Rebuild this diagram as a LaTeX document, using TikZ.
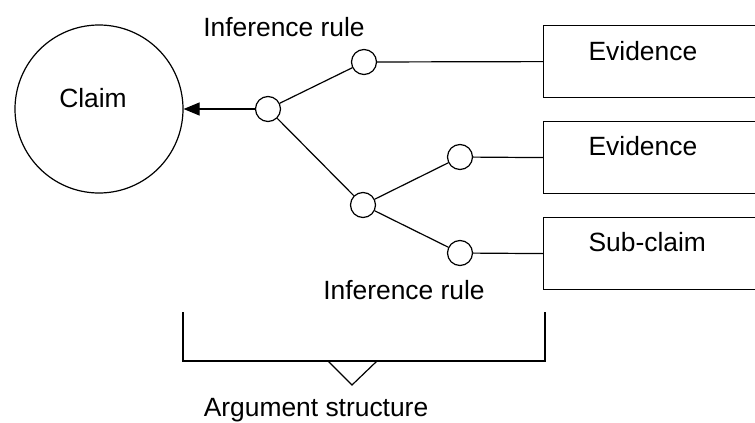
\documentclass[tikz,border=0pt]{standalone}
\usepackage{fontspec}
\setmainfont{Liberation Sans}
\usetikzlibrary{arrows.meta,positioning,shapes.geometric}
\tikzset{
  claimnode/.style={draw, circle, minimum size=84pt, inner sep=0pt},
  rulenode/.style={draw, circle, minimum size=12.5pt, inner sep=0pt, fill=white},
  evbox/.style={draw, rectangle, anchor=north west, minimum width=130pt,
                minimum height=36pt, inner sep=0pt},
  lbl/.style={font=\fontsize{13.2}{16}\selectfont, inner sep=0pt},
}

\begin{document}
\begin{tikzpicture}[x=0.5pt, y=-0.5pt, line width=0.6pt, >={Triangle[length=8pt, width=6.5pt]}]
    \clip (0,0) rectangle (755,423);
    % claim and the rule tree
    \node[claimnode] (claim) at (99,109) {};
    \node[lbl] (claimtxt) at (93,98) {Claim};
    \node[rulenode] (root) at (268,109) {};
    \node[rulenode] (top)  at (364,62)  {};
    \node[rulenode] (mid)  at (363,205) {};
    \node[rulenode] (ev2)  at (460,157) {};
    \node[rulenode] (sub)  at (460,253) {};
    % grounds on the right
    \node[evbox] (box1) at (543,25)  {};
    \node[evbox] (box2) at (543,121) {};
    \node[evbox] (box3) at (543,217) {};
    \node[lbl, anchor=west] (txt1) at (588,51)  {Evidence};
    \node[lbl, anchor=west] (txt2) at (588,146) {Evidence};
    \node[lbl, anchor=west] (txt3) at (588,242) {Sub-claim};
    \node[lbl] (ruletop) at (284,27)  {Inference rule};
    \node[lbl] (rulebot) at (404,290) {Inference rule};
    \draw[->] (root) -- (claim);
    \draw (root) -- (top);
    \draw (root) -- (mid);
    \draw (mid) -- (ev2);
    \draw (mid) -- (sub);
    \draw (top) -- (box1.west);
    \draw (ev2) -- (box2.west);
    \draw (sub) -- (box3.west);
    % brace under the tree
    \draw (183,312) -- (183,361) -- (545,361) -- (545,312);
    \draw (328,361) -- (352,385) -- (377,361);
    \node[lbl] (argtxt) at (316,410) {Argument structure};
\end{tikzpicture}
\end{document}
